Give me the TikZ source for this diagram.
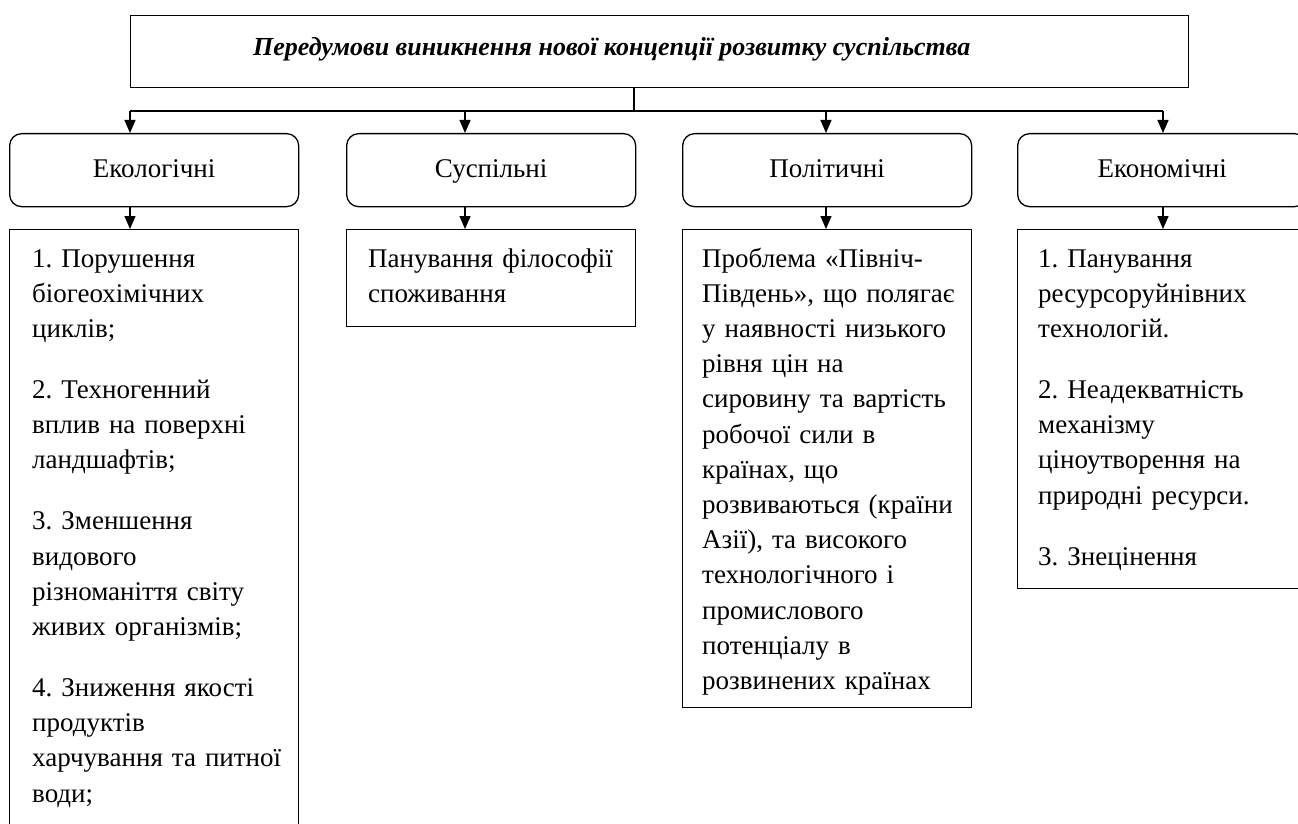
\documentclass[tikz,border=0pt]{standalone}
\usepackage{fontspec}
\setmainfont{Liberation Serif}
\usetikzlibrary{arrows.meta}
\frenchspacing
\newcommand{\headcell}[3]{\node[head, anchor=north west] (#1) at (#2,133) {#3};}
\newcommand{\listcell}[3]{\node[frame, anchor=north west, minimum width=289pt, minimum height=#3pt] (#1) at (#2,229) {};}
\newcommand{\listtext}[3]{\node[txt] (#1) at (#2,267) {#3};}
\tikzset{
  frame/.style={draw, line width=1.3pt, inner sep=0pt},
  head/.style={frame, rounded corners=12pt, minimum width=289pt, minimum height=73pt, text height=19pt, text depth=5pt, font=\fontsize{27}{32}\selectfont},
  txt/.style={inner sep=0pt, anchor=base west, align=left, text width=300pt, font=\fontsize{27}{35.2}\selectfont},
  arr/.style={line width=1.3pt, -{Triangle[length=13pt,width=11pt]}},
  wire/.style={line width=1.3pt}
}

\begin{document}
\begin{tikzpicture}[x=1pt,y=-1pt]
        \useasboundingbox (0,0) rectangle (1298,824);

        % title
        \node[frame, anchor=north west, minimum width=1058pt, minimum height=72pt] (title) at (130,15) {};
        \node[inner sep=0pt, anchor=base west, font=\fontsize{26}{30}\selectfont\bfseries\itshape] (titletext) at (253,56) {Передумови виникнення нової концепції розвитку суспільства};

        % bus
        \coordinate (stem) at (634,111);
        \coordinate (b1) at (130,111);
        \coordinate (b2) at (465,111);
        \coordinate (b3) at (826,111);
        \coordinate (b4) at (1163,111);
        \draw[wire] (title.south -| stem) -- (stem);
        \draw[wire] (b1) -- (b4);

        % row 1
        \headcell{eco}{9}{Екологічні}
        \headcell{soc}{346}{Суспільні}
        \headcell{pol}{682}{Політичні}
        \headcell{econ}{1017}{Економічні}

        \draw[arr] (b1) -- (b1 |- eco.north);
        \draw[arr] (b2) -- (b2 |- soc.north);
        \draw[arr] (b3) -- (b3 |- pol.north);
        \draw[arr] (b4) -- (b4 |- econ.north);

        % row 2
        \listcell{ecolist}{9}{611}
        \listcell{soclist}{346}{97}
        \listcell{pollist}{682}{478}
        \listcell{econlist}{1017}{359}

        \draw[arr] (eco.south -| b1) -- (b1 |- ecolist.north);
        \draw[arr] (soc.south -| b2) -- (b2 |- soclist.north);
        \draw[arr] (pol.south -| b3) -- (b3 |- pollist.north);
        \draw[arr] (econ.south -| b4) -- (b4 |- econlist.north);

        \listtext{ecotext}{32}{1. Порушення\\ біогеохімічних\\ циклів;\\[25.8pt]
          2. Техногенний\\ вплив на поверхні\\ ландшафтів;\\[25.8pt]
          3. Зменшення\\ видового\\ різноманіття світу\\ живих організмів;\\[25.8pt]
          4. Зниження якості\\ продуктів\\ харчування та питної\\ води;}
        \listtext{soctext}{368}{Панування філософії\\ споживання}
        \listtext{poltext}{702}{Проблема «Північ-\\ Південь», що полягає\\ у наявності низького\\ рівня цін на\\ сировину та вартість\\ робочої сили в\\ країнах, що\\ розвиваються (країни\\ Азії), та високого\\ технологічного і\\ промислового\\ потенціалу в\\ розвинених країнах}
        \listtext{econtext}{1038}{1. Панування\\ ресурсоруйнівних\\ технологій.\\[25.8pt]
          2. Неадекватність\\ механізму\\ ціноутворення на\\ природні ресурси.\\[25.8pt]
          3. Знецінення}
\end{tikzpicture}
\end{document}
